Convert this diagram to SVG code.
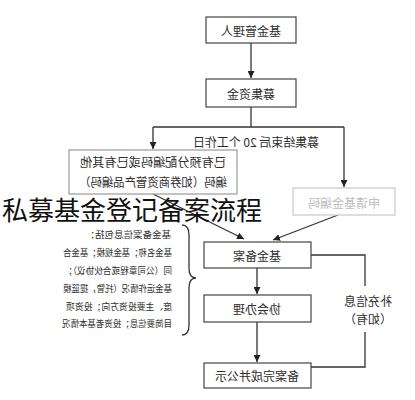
<svg xmlns="http://www.w3.org/2000/svg" width="415" height="400" viewBox="0 0 415 400">
<style>
.box{fill:#fff;stroke:#444;stroke-width:1.2}
.faint{fill:#fff;stroke:#c8c8c8;stroke-width:1.2}
.t{font-family:"Noto Sans CJK SC","Noto Sans",sans-serif;font-size:12px;fill:#2e2e2e;text-anchor:middle;dominant-baseline:central}
.ft{fill:#bdbdbd}
.s{font-family:"Noto Sans CJK SC","Noto Sans",sans-serif;font-size:9.5px;fill:#2e2e2e;dominant-baseline:central}
.c{fill:none;stroke:#333;stroke-width:1.3}
</style>
<defs>
<marker id="ah" markerUnits="userSpaceOnUse" markerWidth="8" markerHeight="8" refX="7" refY="3.5" orient="auto">
<path d="M0,0 L7,3.5 L0,7 z" fill="#222"/>
</marker>
</defs>
<rect width="415" height="400" fill="#fff"/>
<g id="mirrored" transform="matrix(-1 0 0 1 415 0)">
<g id="connectors">
<line class="c" x1="164" y1="43" x2="164" y2="78" marker-end="url(#ah)"/>
<polyline class="c" points="164,107 164,127"/>
<polyline class="c" points="71,127 262,127"/>
<line class="c" x1="262" y1="127" x2="262" y2="149" marker-end="url(#ah)"/>
<line class="c" x1="71" y1="127" x2="71" y2="187" marker-end="url(#ah)"/>
<line class="c" x1="262" y1="194" x2="171" y2="239" marker-end="url(#ah)"/>
<line class="c" x1="77" y1="215" x2="142" y2="240" marker-end="url(#ah)"/>
<line class="c" x1="158" y1="268" x2="158" y2="294" marker-end="url(#ah)"/>
<line class="c" x1="158" y1="322" x2="158" y2="362" marker-end="url(#ah)"/>
<polyline class="c" points="104,255 50,255 50,286"/>
<polyline class="c" points="50,332 50,367 104,367"/>
<text class="t" x="159" y="141" textLength="126" lengthAdjust="spacingAndGlyphs" font-size="11.5">募集结束后 20 个工作日</text>
<text class="t" x="47" y="300">补充信息</text>
<text class="t" x="47" y="318">（如有）</text>
</g>
<g id="n-manager">
<rect class="box" x="119" y="17" width="90" height="26"/>
<text class="t" x="164" y="30">基金管理人</text>
</g>
<g id="n-raise">
<rect class="box" x="119" y="79" width="90" height="28"/>
<text class="t" x="164" y="93">募集资金</text>
</g>
<g id="n-existing">
<rect class="faint" x="178" y="150" width="168" height="44" style="stroke:#9a9a9a"/>
<text class="t" x="262" y="161" textLength="146" lengthAdjust="spacingAndGlyphs">已有预分配编码或已有其他</text>
<text class="t" x="262" y="181" textLength="148" lengthAdjust="spacingAndGlyphs">编码（如券商资管产品编码）</text>
</g>
<g id="n-apply">
<rect class="faint" x="20" y="188" width="102" height="27"/>
<text class="t ft" x="71" y="202">申请基金编码</text>
</g>
<g id="n-filing">
<rect class="box" x="104" y="242" width="107" height="26"/>
<text class="t" x="158" y="255">基金备案</text>
</g>
<g id="n-assoc">
<rect class="box" x="104" y="295" width="107" height="27"/>
<text class="t" x="158" y="308">协会办理</text>
</g>
<g id="n-done">
<rect class="box" x="104" y="363" width="107" height="25"/>
<text class="t" x="158" y="375">备案完成并公示</text>
</g>
<g id="n-info">
<path class="c" stroke-width="1.1" d="M233,225 Q226,225 226,235 L226,268 Q226,278 219,278 Q226,278 226,288 L226,325 Q226,335 233,335"/>
<text class="s" x="244" y="234">基金备案信息包括：</text>
<text class="s" x="243" y="252" textLength="109" lengthAdjust="spacingAndGlyphs">基金名称；基金规模；基金合</text>
<text class="s" x="243" y="270" textLength="108" lengthAdjust="spacingAndGlyphs">同（公司章程或合伙协议）；</text>
<text class="s" x="243" y="288" textLength="109" lengthAdjust="spacingAndGlyphs">基金运作情况（托管，提篮模</text>
<text class="s" x="243" y="306" textLength="106" lengthAdjust="spacingAndGlyphs">度、主要投资方向；投资项</text>
<text class="s" x="243" y="323" textLength="110" lengthAdjust="spacingAndGlyphs">目简要信息；投资者基本情况</text>
</g>
</g>
<text x="2" y="220" font-family="'Noto Sans CJK SC','Noto Sans',sans-serif" font-size="26" fill="#111">私募基金登记备案流程</text>
</svg>
